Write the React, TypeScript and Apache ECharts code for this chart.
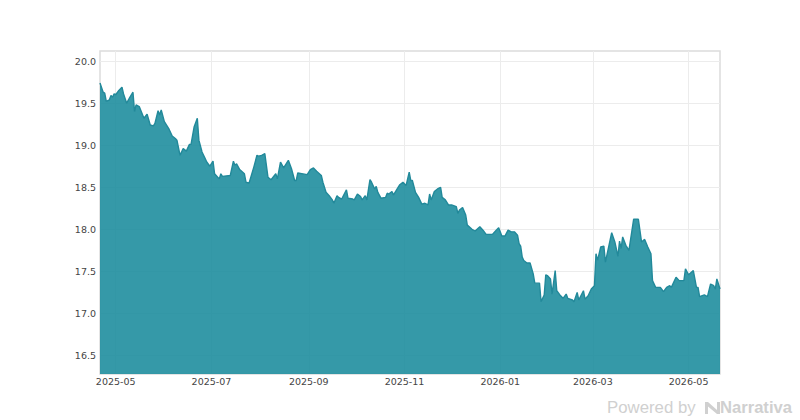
import React, { useEffect, useRef } from 'react';
import * as echarts from 'echarts';

const dates = [
  '2025-04-21', '2025-04-23', '2025-04-24', '2025-04-25', '2025-04-27', '2025-04-28', '2025-04-29', '2025-04-30',
  '2025-05-01', '2025-05-03', '2025-05-05', '2025-05-06', '2025-05-08', '2025-05-10', '2025-05-12', '2025-05-13',
  '2025-05-14', '2025-05-16', '2025-05-19', '2025-05-21', '2025-05-23', '2025-05-25', '2025-05-26', '2025-05-28',
  '2025-05-29', '2025-05-30', '2025-06-01', '2025-06-04', '2025-06-06', '2025-06-08', '2025-06-09', '2025-06-11',
  '2025-06-13', '2025-06-15', '2025-06-17', '2025-06-18', '2025-06-20', '2025-06-22', '2025-06-23', '2025-06-25',
  '2025-06-27', '2025-06-28', '2025-06-30', '2025-07-02', '2025-07-03', '2025-07-05', '2025-07-06', '2025-07-07',
  '2025-07-08', '2025-07-13', '2025-07-15', '2025-07-16', '2025-07-17', '2025-07-19', '2025-07-22', '2025-07-23',
  '2025-07-25', '2025-07-28', '2025-07-30', '2025-07-31', '2025-08-02', '2025-08-04', '2025-08-06', '2025-08-08',
  '2025-08-11', '2025-08-12', '2025-08-14', '2025-08-16', '2025-08-19', '2025-08-21', '2025-08-23', '2025-08-24',
  '2025-08-25', '2025-08-31', '2025-09-02', '2025-09-04', '2025-09-06', '2025-09-09', '2025-09-10', '2025-09-12',
  '2025-09-14', '2025-09-16', '2025-09-17', '2025-09-19', '2025-09-20', '2025-09-22', '2025-09-25', '2025-09-26',
  '2025-09-29', '2025-09-30', '2025-10-02', '2025-10-04', '2025-10-05', '2025-10-07', '2025-10-08', '2025-10-10',
  '2025-10-11', '2025-10-13', '2025-10-14', '2025-10-15', '2025-10-17', '2025-10-20', '2025-10-21', '2025-10-22',
  '2025-10-24', '2025-10-25', '2025-10-29', '2025-10-31', '2025-11-02', '2025-11-04', '2025-11-05', '2025-11-06',
  '2025-11-08', '2025-11-10', '2025-11-12', '2025-11-14', '2025-11-16', '2025-11-17', '2025-11-18', '2025-11-20',
  '2025-11-22', '2025-11-24', '2025-11-25', '2025-11-27', '2025-11-29', '2025-12-01', '2025-12-04', '2025-12-05',
  '2025-12-06', '2025-12-08', '2025-12-10', '2025-12-11', '2025-12-14', '2025-12-16', '2025-12-19', '2025-12-21',
  '2025-12-23', '2025-12-27', '2025-12-29', '2025-12-31', '2026-01-02', '2026-01-04', '2026-01-06', '2026-01-08',
  '2026-01-10', '2026-01-12', '2026-01-13', '2026-01-14', '2026-01-15', '2026-01-16', '2026-01-18', '2026-01-20',
  '2026-01-22', '2026-01-23', '2026-01-26', '2026-01-27', '2026-01-29', '2026-01-30', '2026-01-31', '2026-02-02',
  '2026-02-03', '2026-02-05', '2026-02-06', '2026-02-08', '2026-02-10', '2026-02-12', '2026-02-13', '2026-02-16',
  '2026-02-17', '2026-02-19', '2026-02-20', '2026-02-23', '2026-02-24', '2026-02-26', '2026-02-28', '2026-03-02',
  '2026-03-03', '2026-03-04', '2026-03-06', '2026-03-08', '2026-03-09', '2026-03-13', '2026-03-15', '2026-03-17',
  '2026-03-18', '2026-03-19', '2026-03-20', '2026-03-22', '2026-03-24', '2026-03-27', '2026-03-30', '2026-04-01',
  '2026-04-03', '2026-04-05', '2026-04-07', '2026-04-08', '2026-04-10', '2026-04-13', '2026-04-15', '2026-04-17',
  '2026-04-19', '2026-04-20', '2026-04-23', '2026-04-25', '2026-04-28', '2026-04-29', '2026-05-01', '2026-05-04',
  '2026-05-06', '2026-05-07', '2026-05-08', '2026-05-11', '2026-05-13', '2026-05-15', '2026-05-17', '2026-05-18',
  '2026-05-19', '2026-05-21',
];

const prices = [
  19.74, 19.63, 19.62, 19.52, 19.54, 19.59, 19.57, 19.61,
  19.6, 19.65, 19.69, 19.61, 19.5, 19.57, 19.63, 19.4,
  19.48, 19.46, 19.32, 19.37, 19.24, 19.23, 19.26, 19.41,
  19.36, 19.42, 19.28, 19.19, 19.11, 19.08, 19.06, 18.88,
  18.96, 18.93, 19.01, 19.01, 19.22, 19.32, 19.06, 18.92,
  18.84, 18.8, 18.75, 18.81, 18.66, 18.62, 18.6, 18.66,
  18.63, 18.64, 18.81, 18.76, 18.78, 18.71, 18.66, 18.56,
  18.55, 18.74, 18.88, 18.87, 18.88, 18.9, 18.62, 18.59,
  18.66, 18.6, 18.8, 18.73, 18.82, 18.72, 18.58, 18.58,
  18.67, 18.65, 18.71, 18.73, 18.69, 18.64, 18.56, 18.44,
  18.4, 18.35, 18.31, 18.4, 18.38, 18.36, 18.47, 18.37,
  18.36, 18.35, 18.42, 18.39, 18.35, 18.4, 18.35, 18.59,
  18.56, 18.48, 18.51, 18.44, 18.37, 18.38, 18.43, 18.42,
  18.45, 18.41, 18.53, 18.56, 18.52, 18.68, 18.58, 18.58,
  18.44, 18.38, 18.3, 18.31, 18.29, 18.42, 18.35, 18.45,
  18.48, 18.5, 18.38, 18.35, 18.29, 18.29, 18.27, 18.19,
  18.23, 18.26, 18.17, 18.05, 18.0, 17.98, 18.03, 17.99,
  17.94, 17.94, 17.98, 18.02, 17.92, 17.92, 17.99, 17.97,
  17.97, 17.93, 17.83, 17.8, 17.67, 17.63, 17.6, 17.6,
  17.47, 17.36, 17.36, 17.14, 17.22, 17.46, 17.45, 17.41,
  17.23, 17.51, 17.27, 17.22, 17.18, 17.23, 17.18, 17.16,
  17.14, 17.25, 17.16, 17.27, 17.17, 17.21, 17.29, 17.33,
  17.71, 17.63, 17.79, 17.8, 17.61, 17.96, 17.85, 17.68,
  17.86, 17.77, 17.91, 17.81, 17.75, 18.12, 18.12, 17.85,
  17.88, 17.79, 17.71, 17.39, 17.31, 17.31, 17.26, 17.31,
  17.33, 17.31, 17.43, 17.39, 17.39, 17.53, 17.46, 17.51,
  17.31, 17.31, 17.2, 17.22, 17.2, 17.35, 17.33, 17.29,
  17.41, 17.29,
];

const xTicks = ['2025-05-01', '2025-07-01', '2025-09-01', '2025-11-01', '2026-01-01', '2026-03-01', '2026-05-01'];
const yTicks = [16.5, 17, 17.5, 18, 18.5, 19, 19.5, 20];

const toTime = (d: string) => new Date(d + 'T00:00:00').getTime();

echarts.graphic.registerShape(
  'narrativaMark',
  echarts.graphic.extendPath('M0 0 L3 0 L12 8 L12 0 L15 0 L15 12 L12 12 L3 4.5 L3 12 L0 12 Z', {}),
);

export default function App() {
  const chartRef = useRef<HTMLDivElement | null>(null);

  useEffect(() => {
    document.body.style.margin = '0';
    if (!chartRef.current) return;
    const chart = echarts.init(chartRef.current, undefined, { renderer: 'svg' });
    const tickTimes = xTicks.map(toTime);

    chart.setOption({
      animation: false,
      backgroundColor: '#fff',
      textStyle: { fontFamily: 'DejaVu Sans' },
      grid: { left: 100, top: 51, width: 620, height: 323, show: true, borderColor: '#dcdcdc', borderWidth: 1.5 },
      xAxis: {
        type: 'value',
        min: toTime('2025-04-21'),
        max: toTime('2026-05-21'),
        axisLine: { show: false },
        axisTick: { show: false, customValues: tickTimes },
        axisLabel: {
          customValues: tickTimes,
          color: '#444',
          fontSize: 9.5,
          margin: 2,
          hideOverlap: false,
          formatter: (v: number) => echarts.time.format(v, '{yyyy}-{MM}', false),
        },
        splitLine: { show: true, lineStyle: { color: '#ececec', width: 1 } },
      },
      yAxis: {
        type: 'value',
        min: 16.28,
        max: 20.12,
        axisLine: { show: false },
        axisTick: { show: false, customValues: yTicks },
        axisLabel: {
          customValues: yTicks,
          color: '#444',
          fontSize: 9.5,
          margin: 4,
          formatter: (v: number) => v.toFixed(1),
        },
        splitLine: { show: true, lineStyle: { color: '#ececec', width: 1 } },
      },
      series: [
        {
          type: 'line',
          data: dates.map((d, i) => [toTime(d), prices[i]]),
          symbol: 'none',
          lineStyle: { color: '#22899a', width: 1.4 },
          areaStyle: { color: '#1f8e9e', opacity: 0.9 },
        },
      ],
      graphic: [
        {
          type: 'text',
          x: 607,
          y: 399,
          style: { text: 'Powered by', fill: '#d0d0d0', font: '16.8px "Liberation Sans"' },
        },
        {
          type: 'narrativaMark',
          x: 705,
          y: 402,
          scaleX: 1,
          scaleY: 1,
          style: { fill: '#d0d0d0' },
        },
        {
          type: 'text',
          x: 720,
          y: 399,
          style: { text: 'Narrativa', fill: '#d0d0d0', font: 'bold 16.6px "Liberation Sans"' },
        },
      ],
    });

    return () => {
      chart.dispose();
    };
  }, []);

  return <div ref={chartRef} style={{ width: 800, height: 420 }} />;
}
